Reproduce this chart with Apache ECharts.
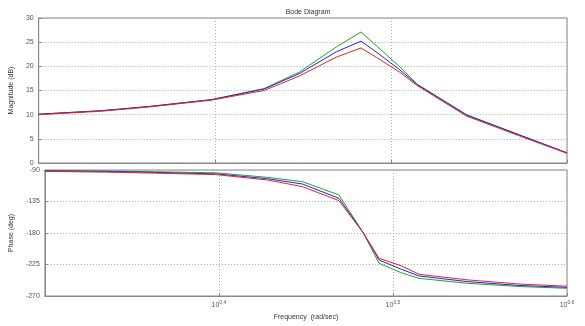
<!DOCTYPE html>
<html><head><meta charset="utf-8">
<script src="https://cdn.jsdelivr.net/npm/echarts@6/dist/echarts.min.js"></script>
<style>html,body{margin:0;padding:0;background:#fff}#c{width:585px;height:326px}</style>
</head><body><div id="c"></div>
<script>
// log10 of frequency (rad/sec)
const freqLog = [0.300, 0.335, 0.363, 0.398, 0.428, 0.448, 0.469, 0.483, 0.492, 0.505, 0.515, 0.543, 0.573, 0.600];
const magGreen = [10.1, 10.8, 11.7, 13.1, 15.4, 18.8, 24.0, 27.1, 24.2, 19.9, 16.3, 10.0, 5.8, 2.1];
const magBlue  = [10.1, 10.8, 11.7, 13.1, 15.3, 18.5, 23.0, 25.2, 22.9, 19.3, 16.2, 9.9, 5.8, 2.1];
const magRed   = [10.0, 10.7, 11.6, 13.0, 15.0, 18.0, 21.9, 23.8, 21.8, 18.8, 16.0, 9.7, 5.6, 2.0];
const phGreen = [-90.8, -91.5, -92.5, -94.0, -100.5, -106.7, -125.7, -180, -223.3, -237, -244.8, -251.9, -256.5, -259];
const phBlue  = [-91.3, -92.0, -93.5, -95.5, -102.5, -110.0, -130.5, -180, -218.6, -232, -241.4, -249.5, -255, -257.6];
const phRed   = [-92.0, -93.0, -94.5, -96.5, -104.3, -113.8, -133.8, -180, -216.2, -227, -239.0, -247.0, -253, -256];
const xTicks = [0.3, 0.4, 0.5, 0.6];
const magTicks = [0, 30, 5];
const phTicks = [-270, -90, 45];
const titleText = 'Bode Diagram';
const colors = ['#20a820', '#2020f0', '#f02020'];

const pairs = a => a.map((v, i) => [freqLog[i], v]);
const axisCol = '#888';
const labCol = '#555';
const font = 'Liberation Sans, Arial, sans-serif';
const gridLine = {show: true, lineStyle: {color: '#aaa', type: [1, 2], width: 1}};
function xAx(idx, showLabel) {
  return {
    type: 'value', gridIndex: idx, min: xTicks[0], max: xTicks[xTicks.length - 1], interval: 0.1,
    axisLine: {show: true, lineStyle: {color: axisCol}},
    axisTick: {show: true, inside: true, length: 3, lineStyle: {color: axisCol}},
    splitLine: gridLine,
    axisLabel: {
      show: showLabel, margin: 4, color: labCol, fontFamily: font,
      formatter: v => (Math.abs(v - 0.3) < 1e-6) ? '' : '{b|10}{s|' + v.toFixed(1) + '}',
      rich: {b: {fontSize: 7, color: labCol, fontFamily: font}, s: {fontSize: 5, color: labCol, fontFamily: font, padding: [0, 0, 6, 0]}}
    },
    name: showLabel ? 'Frequency  (rad/sec)' : '', nameLocation: 'middle', nameGap: 18,
    nameTextStyle: {fontSize: 7, color: '#333', fontFamily: font}
  };
}
function yAx(idx, t, name, gap) {
  return {
    type: 'value', gridIndex: idx, min: t[0], max: t[1], interval: t[2],
    axisLine: {show: true, lineStyle: {color: axisCol}},
    axisTick: {show: true, inside: true, length: 3, lineStyle: {color: axisCol}},
    splitLine: gridLine,
    axisLabel: {fontSize: 7, color: labCol, fontFamily: font, margin: 5},
    name: name, nameLocation: 'middle', nameGap: gap, nameRotate: 90,
    nameTextStyle: {fontSize: 7, color: '#333', fontFamily: font}
  };
}
const mk = (data, c, xi, yi) => ({type: 'line', xAxisIndex: xi, yAxisIndex: yi, data: pairs(data), showSymbol: false, symbol: 'none', lineStyle: {color: c, width: 1}, itemStyle: {color: c}, animation: false});
const chart = echarts.init(document.getElementById('c'));
chart.setOption({
  animation: false,
  title: {text: titleText, left: 303, top: 4, textAlign: 'center', textStyle: {fontSize: 7, fontWeight: 'normal', color: '#333', fontFamily: font}},
  grid: [
    {left: 37, right: 18, top: 18, height: 145, show: true, borderColor: axisCol, borderWidth: 1},
    {left: 37, right: 18, top: 170, height: 126, show: true, borderColor: axisCol, borderWidth: 1}
  ],
  xAxis: [xAx(0, false), xAx(1, true)],
  yAxis: [yAx(0, magTicks, 'Magnitude (dB)', 13), yAx(1, phTicks, 'Phase (deg)', 17)],
  series: [
    mk(magGreen, colors[0], 0, 0), mk(magBlue, colors[1], 0, 0), mk(magRed, colors[2], 0, 0),
    mk(phGreen, colors[0], 1, 1), mk(phBlue, colors[1], 1, 1), mk(phRed, colors[2], 1, 1)
  ]
});
</script></body></html>
